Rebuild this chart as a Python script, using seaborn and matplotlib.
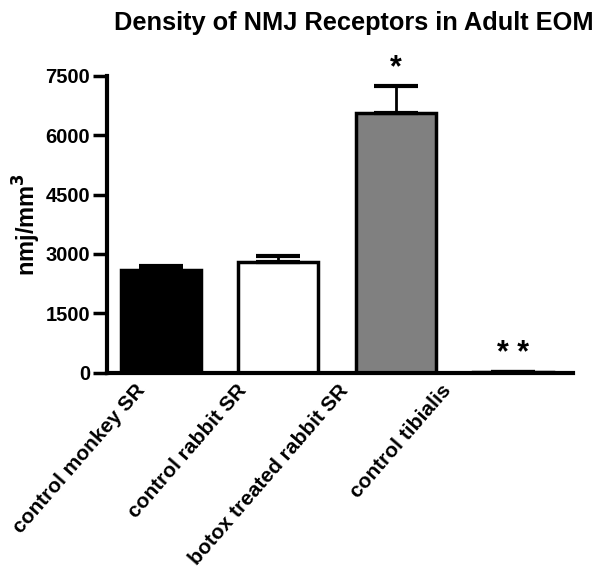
import numpy as np
import pandas as pd
import seaborn as sns
import matplotlib.pyplot as plt
from matplotlib.transforms import ScaledTranslation

groups = ['control monkey SR', 'control rabbit SR', 'botox treated rabbit SR', 'control tibialis']
density = [2600, 2790, 6560, 30]
sem = [100, 170, 690, 0]
colors = ['black', 'white', '#808080', 'black']
stars = ['', '', '*', '* *']

sns.set_style('ticks', rc={'text.color': 'black', 'axes.labelcolor': 'black',
                           'xtick.color': 'black', 'ytick.color': 'black',
                           'axes.edgecolor': 'black'})
plt.rcParams['font.family'] = ['Liberation Sans', 'DejaVu Sans']
plt.rcParams['font.weight'] = 'bold'

df = pd.DataFrame({'group': groups, 'density': density})

fig = plt.figure(figsize=(6, 5.7), dpi=100)
ax = fig.add_axes([0.178, 0.346, 0.777, 0.521])

sns.barplot(df, x='group', y='density', hue='group', palette=colors,
            width=0.68, edgecolor='black', linewidth=2.5, legend=False, ax=ax)

x = np.arange(len(groups))
ax.errorbar(x, density, yerr=[np.zeros(len(sem)), sem], fmt='none',
            ecolor='black', elinewidth=2, capsize=16, capthick=3)

for xi, y, e, s in zip(x, density, sem, stars):
    if s:
        ax.text(xi, y + e + 60, s, ha='center', va='bottom', fontsize=22)

ax.set_xlim(-0.46, 3.51)
ax.set_ylim(0, 7500)
ax.set_yticks([0, 1500, 3000, 4500, 6000, 7500])
ax.set_xlabel('')
ax.set_ylabel('nmj/mm$^3$', fontsize=17, fontweight='bold', labelpad=2)
ax.tick_params(axis='y', labelsize=14.5, width=2.5, length=10, pad=2)
ax.tick_params(axis='x', length=0, labelsize=15, pad=6)
plt.setp(ax.get_yticklabels(), fontweight='bold')

# labels in the original drift left of their bars
shifts = [-26, -42, -58, -72]
for lab, dx in zip(ax.get_xticklabels(), shifts):
    lab.set_rotation(49)
    lab.set_ha('right')
    lab.set_rotation_mode('anchor')
    lab.set_fontweight('bold')
    lab.set_transform(lab.get_transform() + ScaledTranslation(dx / 100, 0, fig.dpi_scale_trans))

for side in ['left', 'bottom']:
    ax.spines[side].set_linewidth(3)
sns.despine(ax=ax)

fig.suptitle('Density of NMJ Receptors in Adult EOM', x=0.59, y=0.98,
             fontsize=18.3, fontweight='bold')

fig.savefig('out.png', dpi=100)
